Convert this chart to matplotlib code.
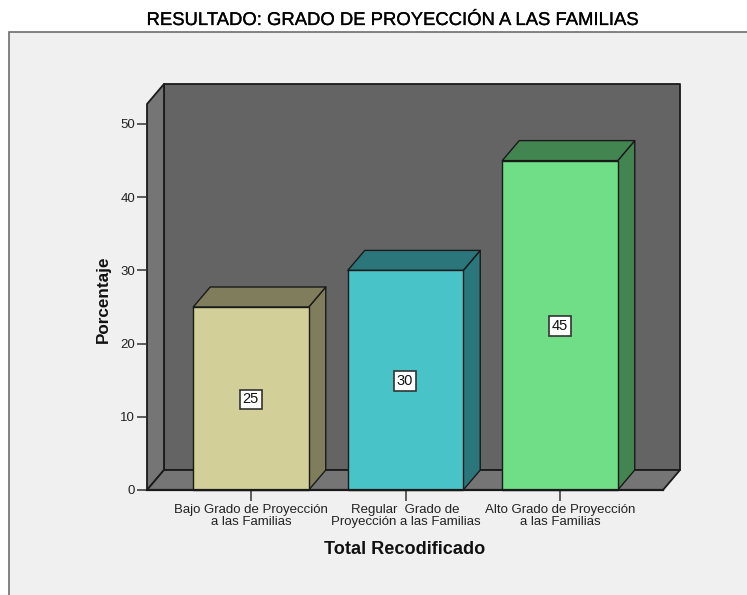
import matplotlib
matplotlib.use("Agg")
import matplotlib.pyplot as plt
import matplotlib.patheffects as pe
from matplotlib.patches import Polygon, Rectangle

categories = ["Bajo Grado de Proyección\na las Familias",
              "Regular  Grado de\nProyección a las Familias",
              "Alto Grado de Proyección\na las Familias"]
values = [25, 30, 45]
front_colors = ["#D3CF98", "#48C4C9", "#70DE86"]
top_colors = ["#7F7D5C", "#2B767A", "#438550"]
yticks = [0, 10, 20, 30, 40, 50]
title = "RESULTADO: GRADO DE PROYECCIÓN A LAS FAMILIAS"
xlabel = "Total Recodificado"
ylabel = "Porcentaje"

W, H = 747, 595
plt.rcParams["font.family"] = ["Liberation Sans", "DejaVu Sans"]
fig = plt.figure(figsize=(W / 100, H / 100), dpi=100, facecolor="white")

# panel background
fig.add_artist(Rectangle((9 / W, -0.01), 1.01 - 9 / W, 1.01 - 32 / H, transform=fig.transFigure,
                         facecolor="#F0F0F0", edgecolor="#6E6E6E", linewidth=1.2, zorder=-5))

L, R, T, B = 147, 663, 104, 490
ax = fig.add_axes([L / W, 1 - B / H, (R - L) / W, (B - T) / H], zorder=2)
ax.patch.set_visible(False)
for s in ax.spines.values():
    s.set_visible(False)

unit_x = 154.5
unit_y = 7.32
x0 = -(251 - L) / unit_x
x1 = (R - 251) / unit_x
y1 = (B - T) / unit_y
ax.set_xlim(x0, x1)
ax.set_ylim(0, y1)
dx = 17 / unit_x
dy = 20 / unit_y
bw = 115.5 / unit_x
EC = "#1A1A1A"


def poly(pts, fc, z=2, lw=1.3):
    ax.add_patch(Polygon(pts, closed=True, facecolor=fc, edgecolor=EC, linewidth=lw,
                         joinstyle="round", clip_on=False, zorder=z))


# box walls
poly([(x0 + dx, dy), (x1 + dx, dy), (x1 + dx, y1 + dy), (x0 + dx, y1 + dy)], "#646464", 1)
poly([(x0, 0), (x0 + dx, dy), (x0 + dx, y1 + dy), (x0, y1)], "#757575", 1)
poly([(x0, 0), (x1, 0), (x1 + dx, dy), (x0 + dx, dy)], "#757575", 1)

# bars
for i, (v, fc, tc) in enumerate(zip(values, front_colors, top_colors)):
    l, r = i - bw / 2, i + bw / 2
    poly([(r, 0), (r + dx, dy), (r + dx, v + dy), (r, v)], tc, 3, 1.0)
    poly([(l, v), (r, v), (r + dx, v + dy), (l + dx, v + dy)], tc, 3, 1.0)
    ax.bar(i, v, width=bw, color=fc, edgecolor=EC, linewidth=1.0, zorder=4, clip_on=False)
    ax.annotate(str(v), (i, v / 2), xytext=(-0.3, -0.7), textcoords="offset points",
                ha="center", va="center", fontsize=10.5, color="#111111", zorder=6,
                bbox=dict(boxstyle="square,pad=0.2", facecolor="white", edgecolor="#333333", linewidth=1.2))

ax.set_yticks(yticks)
ax.set_xticks(range(len(categories)))
ax.set_xticklabels(categories, fontsize=9.5, color="#222222", linespacing=1.03)
ax.tick_params(axis="y", length=7, width=1.1, color="#333333", labelsize=9.5, pad=1.5, labelcolor="#222222")
ax.tick_params(axis="x", length=8, width=1.1, color="#333333", pad=2)
ax.plot([x0, x1], [0, 0], color=EC, lw=1.6, zorder=5, clip_on=False)

fig.text(392.5 / W, 1 - 20.5 / H, title, ha="center", va="center", fontsize=13.3, color="black",
         path_effects=[pe.withStroke(linewidth=0.2, foreground="black")])
fig.text(404.5 / W, 1 - 550 / H, xlabel, ha="center", va="center", fontsize=13.1, fontweight="bold", color="#111111")
fig.text(103 / W, 1 - 299 / H, ylabel, ha="center", va="center", rotation=90, fontsize=12.3,
         fontweight="bold", color="#111111")

fig.savefig("out.png", dpi=100, facecolor="white")
